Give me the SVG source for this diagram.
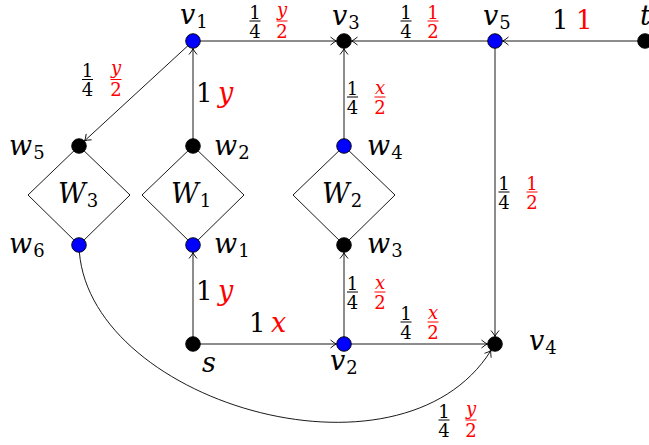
<svg xmlns="http://www.w3.org/2000/svg" width="649" height="445" viewBox="0 0 649 445">
<style>
.e{stroke:#000;stroke-width:0.9;fill:none}
.d{stroke:#000;stroke-width:0.9;fill:none}
.nb{fill:#0000ff;stroke:#000;stroke-width:0.9}
.nk{fill:#000;stroke:#000;stroke-width:0.9}
text{font-family:'DejaVu Serif',serif}
.m{font-style:italic;font-size:27px;fill:#000}
.sub{font-style:normal;font-size:18px}
.big{font-size:26px;fill:#000}
.f{font-size:18px;text-anchor:middle;fill:#000}
.fi{font-style:italic;font-size:18px;text-anchor:middle}
.r{fill:#ff0000}
.rb{stroke:#ff0000;stroke-width:1}
.kb{stroke:#000;stroke-width:1}
</style>
<defs>
<marker id="to" markerUnits="userSpaceOnUse" markerWidth="12" markerHeight="12" refX="0" refY="0" viewBox="-8 -6 10 12" orient="auto">
<path d="M-6,-4 Q-2,-0.6 0,0 Q-2,0.6 -6,4" fill="none" stroke="#000" stroke-width="0.9"/>
</marker>
</defs>

<g id="connectors">
<path class="e" d="M193,41 L336.5,41" marker-end="url(#to)"/>
<path class="e" d="M495,41 L351.5,41" marker-end="url(#to)"/>
<path class="e" d="M645,41 L502.5,41" marker-end="url(#to)"/>
<path class="e" d="M193,41 L84.5,140.9" marker-end="url(#to)"/>
<path class="e" d="M193,146 L193,48.5" marker-end="url(#to)"/>
<path class="e" d="M344,146 L344,48.5" marker-end="url(#to)"/>
<path class="e" d="M495,41 L495,336.5" marker-end="url(#to)"/>
<path class="e" d="M193,344 L193,252.5" marker-end="url(#to)"/>
<path class="e" d="M193,344 L336.5,344" marker-end="url(#to)"/>
<path class="e" d="M344,344 L344,252.5" marker-end="url(#to)"/>
<path class="e" d="M344,344 L487.5,344" marker-end="url(#to)"/>
<path class="e" d="M79,245 C82,400 400,496 491,350.4" marker-end="url(#to)"/>

<g id="lab-v1w5">
<text class="f" x="87.5" y="77">1</text><line class="kb" x1="82" y1="79.5" x2="93" y2="79.5"/><text class="f" x="87.5" y="96">4</text>
<text class="fi r" x="116" y="74">y</text><line class="rb" x1="110.5" y1="79.5" x2="121.5" y2="79.5"/><text class="f r" x="116" y="96">2</text>
</g>
<g id="lab-v1v3">
<text class="f" x="255" y="18.5">1</text><line class="kb" x1="249.5" y1="21" x2="260.5" y2="21"/><text class="f" x="255" y="37.5">4</text>
<text class="fi r" x="282" y="15.5">y</text><line class="rb" x1="276.5" y1="21" x2="287.5" y2="21"/><text class="f r" x="282" y="37.5">2</text>
</g>
<g id="lab-v5v3">
<text class="f" x="406" y="18.5">1</text><line class="kb" x1="400.5" y1="21" x2="411.5" y2="21"/><text class="f" x="406" y="37.5">4</text>
<text class="f r" x="433" y="18.5">1</text><line class="rb" x1="427.5" y1="21" x2="438.5" y2="21"/><text class="f r" x="433" y="37.5">2</text>
</g>
<g id="lab-tv5">
<text class="big" x="552" y="29">1</text><text class="big r" x="576" y="29">1</text>
</g>
<g id="lab-w2v1">
<text class="big" x="196" y="102">1</text><text class="m r" x="218" y="102">y</text>
</g>
<g id="lab-w4v3">
<text class="f" x="352.5" y="94.5">1</text><line class="kb" x1="347" y1="97" x2="358" y2="97"/><text class="f" x="352.5" y="113.5">4</text>
<text class="fi r" x="380" y="93.5">x</text><line class="rb" x1="374.5" y1="97" x2="385.5" y2="97"/><text class="f r" x="380" y="113.5">2</text>
</g>
<g id="lab-v5v4">
<text class="f" x="504" y="189.5">1</text><line class="kb" x1="498.5" y1="192" x2="509.5" y2="192"/><text class="f" x="504" y="208.5">4</text>
<text class="f r" x="532" y="189.5">1</text><line class="rb" x1="526.5" y1="192" x2="537.5" y2="192"/><text class="f r" x="532" y="208.5">2</text>
</g>
<g id="lab-sw1">
<text class="big" x="196" y="300">1</text><text class="m r" x="218" y="300">y</text>
</g>
<g id="lab-v2w3">
<text class="f" x="352.5" y="289.5">1</text><line class="kb" x1="347" y1="292" x2="358" y2="292"/><text class="f" x="352.5" y="308.5">4</text>
<text class="fi r" x="380" y="288.5">x</text><line class="rb" x1="374.5" y1="292" x2="385.5" y2="292"/><text class="f r" x="380" y="308.5">2</text>
</g>
<g id="lab-sv2">
<text class="big" x="249" y="332">1</text><text class="m r" x="271" y="332">x</text>
</g>
<g id="lab-v2v4">
<text class="f" x="406" y="319.5">1</text><line class="kb" x1="400.5" y1="322" x2="411.5" y2="322"/><text class="f" x="406" y="338.5">4</text>
<text class="fi r" x="433" y="318.5">x</text><line class="rb" x1="427.5" y1="322" x2="438.5" y2="322"/><text class="f r" x="433" y="338.5">2</text>
</g>
<g id="lab-w6v4">
<text class="f" x="444" y="417.5">1</text><line class="kb" x1="438.5" y1="420" x2="449.5" y2="420"/><text class="f" x="444" y="436.5">4</text>
<text class="fi r" x="471" y="414.5">y</text><line class="rb" x1="465.5" y1="420" x2="476.5" y2="420"/><text class="f r" x="471" y="436.5">2</text>
</g>
</g>

<g id="W3"><polygon class="d" points="79,146 130,195 79,245 28,195"/><text class="m" x="58" y="203">W<tspan class="sub" dx="1" dy="4">3</tspan></text></g>
<g id="W1"><polygon class="d" points="193,146 244,195 193,245 142,195"/><text class="m" x="171" y="203">W<tspan class="sub" dx="1" dy="4">1</tspan></text></g>
<g id="W2"><polygon class="d" points="344,146 395,195 344,245 293,195"/><text class="m" x="322" y="203">W<tspan class="sub" dx="1" dy="4">2</tspan></text></g>

<g id="v1"><circle class="nb" cx="193" cy="41" r="7.3"/><text class="m" x="180" y="24">v<tspan class="sub" dx="1" dy="4">1</tspan></text></g>
<g id="v3"><circle class="nk" cx="344" cy="41" r="7.3"/><text class="m" x="332" y="25">v<tspan class="sub" dx="1" dy="4">3</tspan></text></g>
<g id="v5"><circle class="nb" cx="495" cy="41" r="7.3"/><text class="m" x="483" y="25">v<tspan class="sub" dx="1" dy="4">5</tspan></text></g>
<g id="t"><circle class="nk" cx="645" cy="41" r="7.3"/><text class="m" x="640" y="25">t</text></g>
<g id="w5"><circle class="nk" cx="79" cy="146" r="7.3"/><text class="m" x="9" y="155">w<tspan class="sub" dx="1" dy="4">5</tspan></text></g>
<g id="w2"><circle class="nk" cx="193" cy="146" r="7.3"/><text class="m" x="214" y="155">w<tspan class="sub" dx="1" dy="4">2</tspan></text></g>
<g id="w4"><circle class="nb" cx="344" cy="146" r="7.3"/><text class="m" x="367" y="155">w<tspan class="sub" dx="1" dy="4">4</tspan></text></g>
<g id="w6"><circle class="nb" cx="79" cy="245" r="7.3"/><text class="m" x="9" y="253">w<tspan class="sub" dx="1" dy="4">6</tspan></text></g>
<g id="w1"><circle class="nb" cx="193" cy="245" r="7.3"/><text class="m" x="214" y="253">w<tspan class="sub" dx="1" dy="4">1</tspan></text></g>
<g id="w3"><circle class="nk" cx="344" cy="245" r="7.3"/><text class="m" x="367" y="253">w<tspan class="sub" dx="1" dy="4">3</tspan></text></g>
<g id="s"><circle class="nk" cx="193" cy="344" r="7.3"/><text class="m" x="202" y="372">s</text></g>
<g id="v2"><circle class="nb" cx="344" cy="344" r="7.3"/><text class="m" x="330" y="370">v<tspan class="sub" dx="1" dy="4">2</tspan></text></g>
<g id="v4"><circle class="nk" cx="495" cy="344" r="7.3"/><text class="m" x="529" y="350">v<tspan class="sub" dx="1" dy="4">4</tspan></text></g>
</svg>
